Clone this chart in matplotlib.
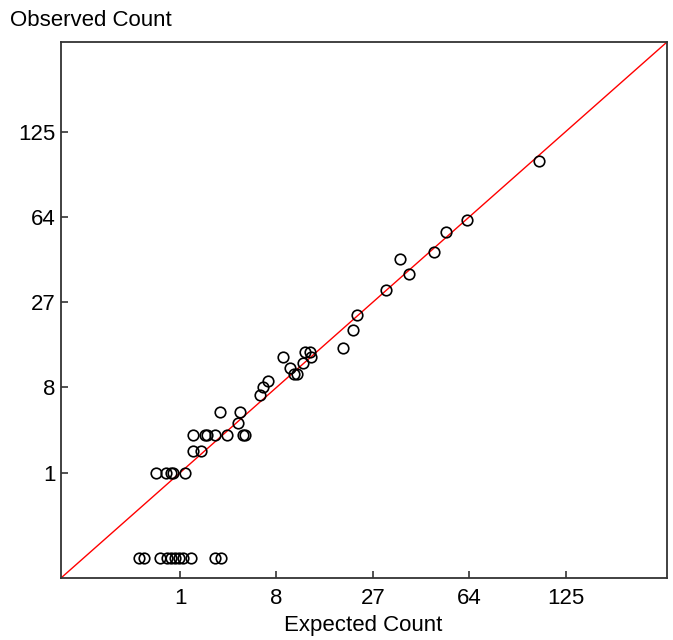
import numpy as np
import matplotlib
matplotlib.use("Agg")
import matplotlib.pyplot as plt

plt.rcParams['font.family'] = ['Liberation Sans', 'DejaVu Sans']

expected = [0.19, 0.24, 0.49, 0.64, 0.74, 0.84, 0.96, 1.08, 1.37, 2.5, 2.87,
            0.42, 0.62, 0.74, 0.79, 1.15,
            1.44, 1.79,
            1.44, 2.0, 2.1, 2.5, 3.26, 4.48, 4.65,
            4.12,
            2.8, 4.23,
            6.10, 6.46, 6.97, 8.86, 9.73, 10.35, 10.86, 11.73, 12.17, 12.9, 13.18,
            19.4, 21.7, 22.8, 30.8, 35.4, 38.4, 47.8, 53.2, 62.8, 105.5]
observed = [0] * 11 + [1] * 5 + [2] * 2 + [3] * 7 + [4] + [5, 5] + \
           [7, 8, 9, 13, 11, 10, 10, 12, 14, 14, 13,
            15, 19, 23, 31, 43, 37, 46, 56, 62, 101]
ticks = [1, 8, 27, 64, 125]
x_label = "Expected Count"
y_label = "Observed Count"

lo_c, hi_c = -0.235, 6.05
lo, hi = lo_c ** 3, hi_c ** 3

fig = plt.figure(figsize=(6.73, 6.40), dpi=100)
ax = fig.add_axes([61 / 673, 62 / 640, 606 / 673, 536 / 640])

fwd = lambda v: np.cbrt(v)
inv = lambda v: np.asarray(v) ** 3
ax.set_xscale('function', functions=(fwd, inv))
ax.set_yscale('function', functions=(fwd, inv))
ax.set_xlim(lo, hi)
ax.set_ylim(lo, hi)

ax.plot([lo, hi], [lo, hi], color='red', lw=1.0, zorder=1)
ax.plot(expected, observed, linestyle='none', marker='o', ms=7.6,
        mfc='none', mec='black', mew=1.2, zorder=2)

ax.set_xticks(ticks)
ax.set_yticks(ticks)
ax.set_xticklabels([str(t) for t in ticks])
ax.set_yticklabels([str(t) for t in ticks])
ax.minorticks_off()
ax.tick_params(axis='both', direction='in', length=5, width=1.2, color='#333333',
               labelsize=16, labelcolor='black')
ax.tick_params(axis='x', pad=7)
ax.tick_params(axis='y', pad=4)
for s in ax.spines.values():
    s.set_color('#333333')
    s.set_linewidth(1.3)

fig.text(10 / 673, 1 - 21 / 640, y_label, fontsize=16, ha='left', va='center')
fig.text(363 / 673, 1 - 625 / 640, x_label, fontsize=16, ha='center', va='center')

fig.savefig("out.png", dpi=100)
